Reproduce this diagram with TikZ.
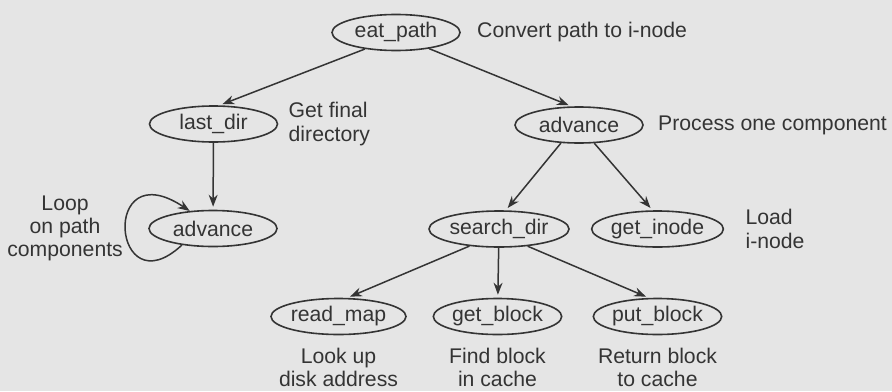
\documentclass[tikz,border=0pt]{standalone}
\usepackage{fontspec}
\setmainfont{Liberation Sans}
\usetikzlibrary{arrows.meta,positioning,shapes.geometric}
\definecolor{paper}{RGB}{229,229,229}
\definecolor{ink}{RGB}{52,52,52}

\begin{document}
\begin{tikzpicture}[
  x=0.5pt, y=-0.5pt,
  proc/.style={ellipse, draw=ink, line width=0.8pt, minimum width=64pt,
               minimum height=18pt, inner sep=0pt, text=ink,
               font=\fontsize{10.6}{11.6}\selectfont},
  note/.style={text=ink, inner sep=0pt, font=\fontsize{10.6}{11.6}\selectfont},
  arr/.style={-{Stealth[length=6pt,width=4.5pt]}, line width=0.75pt, draw=ink,
              shorten >=1.5pt}]
\fill[paper] (0,0) rectangle (892,391);
\useasboundingbox (0,0) rectangle (892,391);
% call tree
\node[proc] (eat) at (396,32.5) {eat\_path};
\node[proc] (last) at (213.5,124) {last\_dir};
\node[proc] (advR) at (579,125) {advance};
\node[proc] (advL) at (213,228.5) {advance};
\node[proc] (search) at (499,229) {search\_dir};
\node[proc] (getinode) at (657.5,229) {get\_inode};
\node[proc] (readmap) at (338.5,316.5) {read\_map};
\node[proc] (getblock) at (497.5,316.5) {get\_block};
\node[proc] (putblock) at (657.5,316.5) {put\_block};
\draw[arr] (eat.208) -- (last.72);
\draw[arr] (eat.334) -- (advR.112);
\draw[arr] (last) -- (advL);
\draw[arr, shorten >=0pt] (advL.208) .. controls +(-70,65) and +(-90,-60) .. (advL.143);
\draw[arr] (advR.225) -- (search.70);
\draw[arr] (advR.310) -- (getinode.105);
\draw[arr] (search.210) -- (readmap.65);
\draw[arr] (search) -- (getblock);
\draw[arr] (search.329) -- (putblock.115);
% comments beside the calls
\node[note, right=8pt of eat] (eatnote) {Convert path to i-node};
\node[note, right=5pt of last, align=left] (lastnote) {Get final\\directory};
\node[note, right=7pt of advR] (advnote) {Process one component};
\node[note, left=12.5pt of advL, align=center] (loopnote) {Loop\\on path\\components};
\node[note, right=10.5pt of getinode, align=left] (inodenote) {Load\\i-node};
\node[note, below=6pt of readmap, align=center] (mapnote) {Look up\\disk address};
\node[note, below=6pt of getblock, align=center] (getnote) {Find block\\in cache};
\node[note, below=6pt of putblock, align=center] (putnote) {Return block\\to cache};
\end{tikzpicture}
\end{document}
